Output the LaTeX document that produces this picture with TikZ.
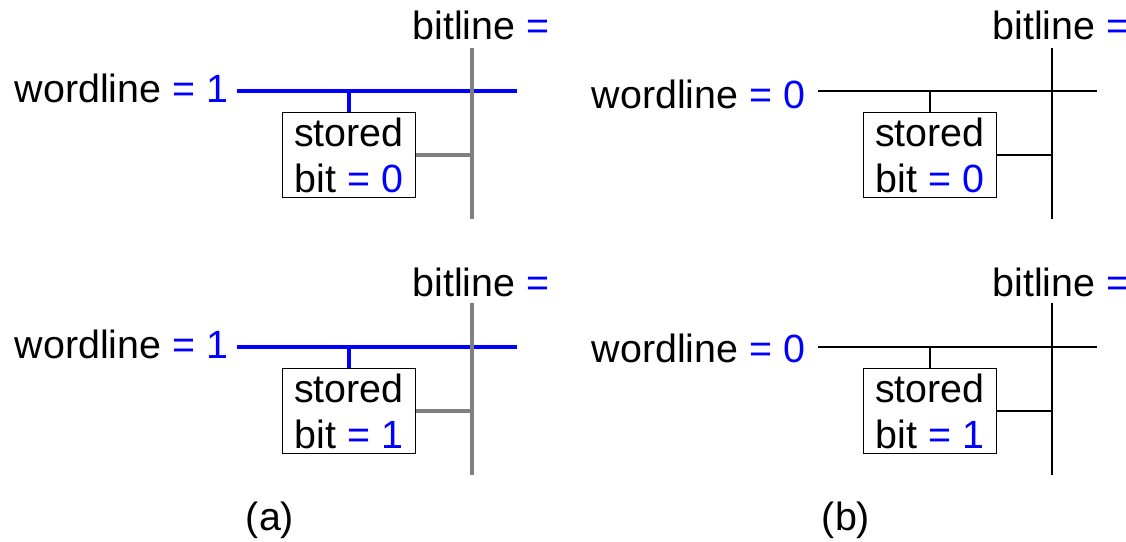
\documentclass[tikz,border=0pt]{standalone}
\usepackage{fontspec}
\setmainfont{Liberation Sans}

\newcommand{\bitval}[1]{\textcolor{blue}{#1}}

\begin{document}
\begin{tikzpicture}[x=0.01cm, y=-0.01cm,
	lbl/.style={inner sep=0pt, font=\fontsize{11.2}{13.1}\selectfont},
	cell/.style={draw, line width=0.4pt, inner sep=0pt, minimum width=1.33cm,
		minimum height=0.85cm, align=center, font=\fontsize{11.2}{13.1}\selectfont},
	wlon/.style={draw=blue, line width=1.1pt},
	blon/.style={draw=gray, line width=1.1pt},
	wire/.style={draw=black, line width=0.4pt}]
	\useasboundingbox (0,0) rectangle (1126,542);

	% (a), stored bit 0
	\node [lbl, anchor=east] (wlA) at (229,88) {wordline \bitval{= 1}};
	\node [lbl, anchor=east] (blA) at (550,25) {bitline \bitval{=}};
	\node [cell] (cellA) at (349,155) {stored\\bit \bitval{= 0}};
	\coordinate (wAs) at (237,91);
	\coordinate (wAe) at (517,91);
	\coordinate (bAt) at (472,48);
	\coordinate (bAb) at (472,219);
	\draw[wlon] (wAs) -- (wAe);
	\draw[wlon] (cellA.north) -- (cellA.north |- wAs);
	\draw[blon] (bAt) -- (bAb);
	\draw[blon] (cellA.east) -- (cellA.east -| bAt);

	% (a), stored bit 1
	\node [lbl, anchor=east] (wlB) at (229,344) {wordline \bitval{= 1}};
	\node [lbl, anchor=east] (blB) at (550,282) {bitline \bitval{=}};
	\node [cell] (cellB) at (349,411) {stored\\bit \bitval{= 1}};
	\coordinate (wBs) at (237,347);
	\coordinate (wBe) at (517,347);
	\coordinate (bBt) at (472,303);
	\coordinate (bBb) at (472,475);
	\draw[wlon] (wBs) -- (wBe);
	\draw[wlon] (cellB.north) -- (cellB.north |- wBs);
	\draw[blon] (bBt) -- (bBb);
	\draw[blon] (cellB.east) -- (cellB.east -| bBt);

	% (b), stored bit 0
	\node [lbl, anchor=east] (wlC) at (806,94) {wordline \bitval{= 0}};
	\node [lbl, anchor=east] (blC) at (1130,25) {bitline \bitval{=}};
	\node [cell] (cellC) at (930,155) {stored\\bit \bitval{= 0}};
	\coordinate (wCs) at (818,91);
	\coordinate (wCe) at (1097,91);
	\coordinate (bCt) at (1052,48);
	\coordinate (bCb) at (1052,219);
	\draw[wire] (wCs) -- (wCe);
	\draw[wire] (cellC.north) -- (cellC.north |- wCs);
	\draw[wire] (bCt) -- (bCb);
	\draw[wire] (cellC.east) -- (cellC.east -| bCt);

	% (b), stored bit 1
	\node [lbl, anchor=east] (wlD) at (806,348) {wordline \bitval{= 0}};
	\node [lbl, anchor=east] (blD) at (1130,282) {bitline \bitval{=}};
	\node [cell] (cellD) at (930,411) {stored\\bit \bitval{= 1}};
	\coordinate (wDs) at (818,347);
	\coordinate (wDe) at (1097,347);
	\coordinate (bDt) at (1052,303);
	\coordinate (bDb) at (1052,475);
	\draw[wire] (wDs) -- (wDe);
	\draw[wire] (cellD.north) -- (cellD.north |- wDs);
	\draw[wire] (bDt) -- (bDb);
	\draw[wire] (cellD.east) -- (cellD.east -| bDt);

	\node [lbl] (capA) at (270,520) {(a)};
	\node [lbl] (capB) at (846,520) {(b)};
\end{tikzpicture}
\end{document}
